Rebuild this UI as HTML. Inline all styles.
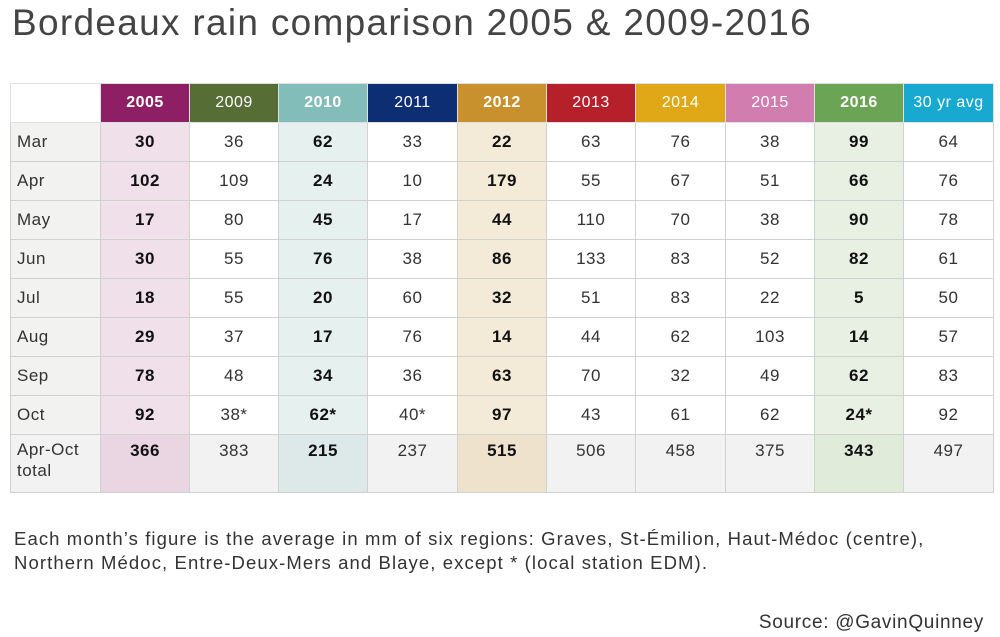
<!DOCTYPE html>
<html><head><meta charset="utf-8"><style>
body{margin:0;width:1000px;height:637px;background:#fff;font-family:"Liberation Sans",sans-serif;color:#222;position:relative;overflow:hidden}
h1{position:absolute;left:12px;top:2px;margin:0;font-weight:normal;font-size:37px;color:#444;letter-spacing:1.3px}
table{position:absolute;left:10px;top:83px;border-collapse:collapse;table-layout:fixed}
td{border:1px solid #cfd2cf;text-align:center;font-size:17px;height:38px;padding:0;color:#333;letter-spacing:0.5px}
tr.hd td{height:38px;color:#fff;font-size:16px;border-color:#e0e0e0}
td.m{text-align:left;padding-left:6px;background:#f2f3f1}
td.b{font-weight:bold;color:#111}
tr.tot td{height:51px;vertical-align:top;padding-top:6px;background:#f1f2f1}
.c1{background:#f0e0ea}.c3{background:#e5f0ef}.c5{background:#f4ead8}.c9{background:#e8f0e3}
tr.tot .c1{background:#e9d6e2}tr.tot .c3{background:#dde9e8}tr.tot .c5{background:#efe2cc}tr.tot .c9{background:#e0ebda}
.note{position:absolute;left:14px;top:527px;font-size:18.5px;line-height:24px;color:#333;letter-spacing:1.1px;white-space:nowrap}
.src{position:absolute;right:16px;top:612px;font-size:19px;color:#333;letter-spacing:0.7px}
</style></head><body>
<h1>Bordeaux rain comparison 2005 &amp; 2009-2016</h1>
<table>
<colgroup><col style="width:90px"><col style="width:89px"><col style="width:89px"><col style="width:89px"><col style="width:90px"><col style="width:89px"><col style="width:89px"><col style="width:90px"><col style="width:89px"><col style="width:89px"><col style="width:90px"></colgroup>
<tbody id="tb"></tbody></table>
<div class="note">Each month’s figure is the average in mm of six regions: Graves, St-Émilion, Haut-Médoc (centre),<br>Northern Médoc, Entre-Deux-Mers and Blaye, except * (local station EDM).</div>
<div class="src">Source: @GavinQuinney</div>
<script>
const years=["2005","2009","2010","2011","2012","2013","2014","2015","2016","30 yr avg"];
const headColors=["#8e1f64","#566d35","#82bdb9","#0d2e73","#c9912d","#b5202b","#e0a717","#d27db0","#6ca456","#17a9cf"];
const bold=[1,0,1,0,1,0,0,0,1,0];
const months=["Mar","Apr","May","Jun","Jul","Aug","Sep","Oct","Apr-Oct<br>total"];
const values=[
["30","36","62","33","22","63","76","38","99","64"],
["102","109","24","10","179","55","67","51","66","76"],
["17","80","45","17","44","110","70","38","90","78"],
["30","55","76","38","86","133","83","52","82","61"],
["18","55","20","60","32","51","83","22","5","50"],
["29","37","17","76","14","44","62","103","14","57"],
["78","48","34","36","63","70","32","49","62","83"],
["92","38*","62*","40*","97","43","61","62","24*","92"],
["366","383","215","237","515","506","458","375","343","497"]];
const tb=document.getElementById('tb');
let tr=document.createElement('tr');tr.className='hd';


let e=document.createElement('td');e.style.background='#fff';tr.appendChild(e);
years.forEach((y,i)=>{const td=document.createElement('td');


td.style.background=headColors[i];td.textContent=y;if(bold[i])td.style.fontWeight='bold';tr.appendChild(td);});
tb.appendChild(tr);
months.forEach((m,r)=>{const row=document.createElement('tr');


if(r===months.length-1)row.className='tot';
const mc=document.createElement('td');mc.className='m';mc.innerHTML=m;


if(r===months.length-1){mc.style.lineHeight='21px';mc.style.paddingTop='4px';}
row.appendChild(mc);
values[r].forEach((v,i)=>{const td=document.createElement('td');


td.textContent=v;td.className=(bold[i]?'b ':'')+(bold[i]?'c'+(i+1):'');row.appendChild(td);});
tb.appendChild(row);});
</script>
</body></html>
